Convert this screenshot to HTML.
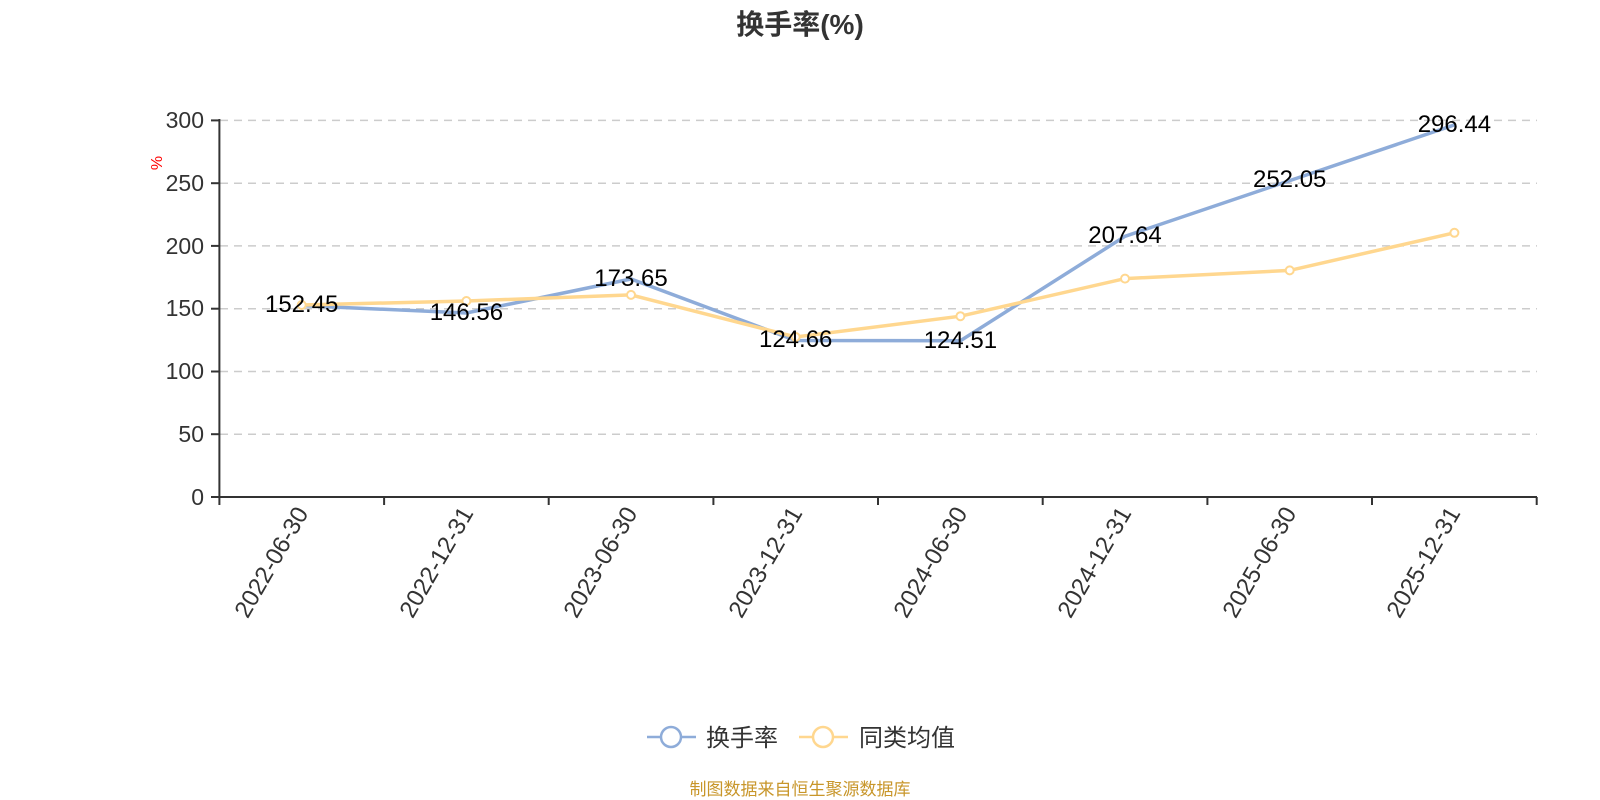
<!DOCTYPE html>
<html><head><meta charset="utf-8"><style>
html,body{margin:0;padding:0;background:#fff;}
svg{display:block;font-family:"Liberation Sans","Noto Sans CJK SC",sans-serif;}
</style></head><body>
<svg width="1600" height="800" viewBox="0 0 1600 800" xmlns="http://www.w3.org/2000/svg">
<text x="800" y="34" text-anchor="middle" font-size="28" font-weight="bold" fill="#333">换手率(%)</text>
<g stroke="#ccc" stroke-width="1.5" stroke-dasharray="8,6">
<line x1="220" x2="1537" y1="120.4" y2="120.4"/>
<line x1="220" x2="1537" y1="183.2" y2="183.2"/>
<line x1="220" x2="1537" y1="245.9" y2="245.9"/>
<line x1="220" x2="1537" y1="308.7" y2="308.7"/>
<line x1="220" x2="1537" y1="371.5" y2="371.5"/>
<line x1="220" x2="1537" y1="434.2" y2="434.2"/>
</g>
<g stroke="#333" stroke-width="2">
<line x1="219.4" y1="119" x2="219.4" y2="497"/>
<line x1="219.4" y1="497" x2="1537" y2="497"/>
<line x1="211" x2="219" y1="120.4" y2="120.4"/><line x1="211" x2="219" y1="183.2" y2="183.2"/><line x1="211" x2="219" y1="245.9" y2="245.9"/><line x1="211" x2="219" y1="308.7" y2="308.7"/><line x1="211" x2="219" y1="371.5" y2="371.5"/><line x1="211" x2="219" y1="434.2" y2="434.2"/><line x1="211" x2="219" y1="497" y2="497"/>
<line x1="219.4" x2="219.4" y1="497" y2="505"/><line x1="384.1" x2="384.1" y1="497" y2="505"/><line x1="548.7" x2="548.7" y1="497" y2="505"/><line x1="713.4" x2="713.4" y1="497" y2="505"/><line x1="878" x2="878" y1="497" y2="505"/><line x1="1042.7" x2="1042.7" y1="497" y2="505"/><line x1="1207.4" x2="1207.4" y1="497" y2="505"/><line x1="1372" x2="1372" y1="497" y2="505"/><line x1="1536.7" x2="1536.7" y1="497" y2="505"/>
</g>
<g font-size="23" fill="#333" text-anchor="end">
<text x="204" y="128">300</text><text x="204" y="191">250</text><text x="204" y="254">200</text><text x="204" y="316">150</text><text x="204" y="379">100</text><text x="204" y="442">50</text><text x="204" y="505">0</text>
</g>
<text x="0" y="0" font-size="16" fill="red" transform="translate(162,163) rotate(-90)" text-anchor="middle">%</text>
<g font-size="24" fill="#333" text-anchor="end">
<text transform="translate(309,513) rotate(-60)">2022-06-30</text>
<text transform="translate(474,513) rotate(-60)">2022-12-31</text>
<text transform="translate(638,513) rotate(-60)">2023-06-30</text>
<text transform="translate(803,513) rotate(-60)">2023-12-31</text>
<text transform="translate(968,513) rotate(-60)">2024-06-30</text>
<text transform="translate(1132,513) rotate(-60)">2024-12-31</text>
<text transform="translate(1297,513) rotate(-60)">2025-06-30</text>
<text transform="translate(1461,513) rotate(-60)">2025-12-31</text>
</g>
<polyline fill="none" stroke="#8eacd9" stroke-width="3.5" points="301.7,305.6 466.4,313 631,279 795.7,340.5 960.4,340.7 1125,236.3 1289.7,180.6 1454.4,124.9"/>
<polyline fill="none" stroke="#ffd78f" stroke-width="3.5" points="301.7,305 466.4,301 631,294.9 795.7,337 960.4,316.2 1125,278.6 1289.7,270.4 1454.4,232.8"/>
<g fill="#fff" stroke="#ffd78f" stroke-width="2">
<circle cx="301.7" cy="305" r="4"/><circle cx="466.4" cy="301" r="4"/><circle cx="631" cy="294.9" r="4"/><circle cx="795.7" cy="337" r="4"/><circle cx="960.4" cy="316.2" r="4"/><circle cx="1125" cy="278.6" r="4"/><circle cx="1289.7" cy="270.4" r="4"/><circle cx="1454.4" cy="232.8" r="4"/>
</g>
<g font-size="24" fill="#000" text-anchor="middle">
<text x="301.7" y="312">152.45</text>
<text x="466.4" y="320">146.56</text>
<text x="631" y="286">173.65</text>
<text x="795.7" y="347">124.66</text>
<text x="960.4" y="348">124.51</text>
<text x="1125" y="243">207.64</text>
<text x="1289.7" y="187">252.05</text>
<text x="1454.4" y="132">296.44</text>
</g>
<line x1="647" x2="696" y1="737" y2="737" stroke="#8eacd9" stroke-width="2.5"/>
<circle cx="671" cy="737" r="10" fill="#fff" stroke="#8eacd9" stroke-width="2.5"/>
<text x="706" y="746" font-size="24" fill="#333">换手率</text>
<line x1="799" x2="848" y1="737" y2="737" stroke="#ffd78f" stroke-width="2.5"/>
<circle cx="823" cy="737" r="10" fill="#fff" stroke="#ffd78f" stroke-width="2.5"/>
<text x="859" y="746" font-size="24" fill="#333">同类均值</text>
<text x="800" y="795" text-anchor="middle" font-size="17" fill="#c8962a">制图数据来自恒生聚源数据库</text>
</svg>
</body></html>
